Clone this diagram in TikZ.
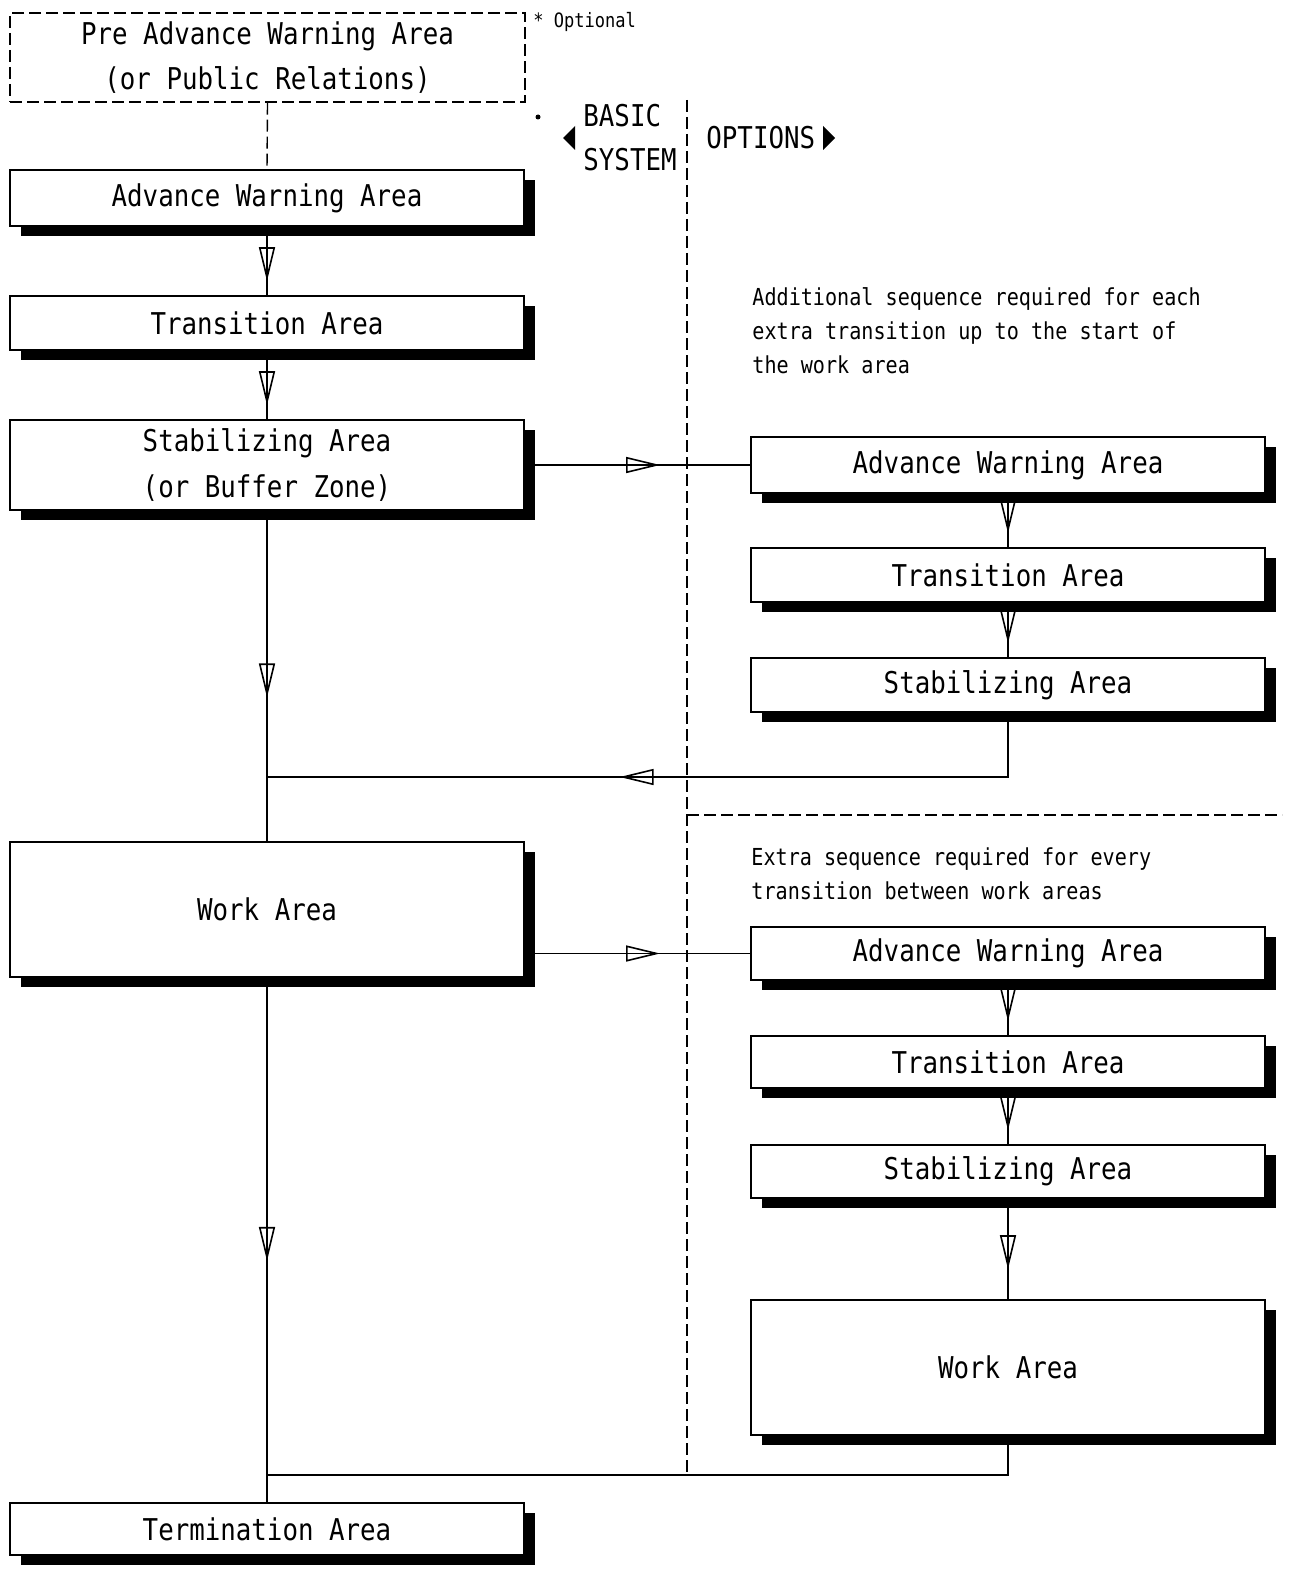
\documentclass[tikz,border=0pt]{standalone}
\usepackage{fontspec}
\newfontfamily\plotfont[FakeStretch=0.86]{DejaVu Sans Mono}
\usetikzlibrary{arrows.meta}
\usetikzlibrary{shadows}
\usetikzlibrary{decorations.markings}

\tikzset{
  area/.style={draw, line width=0.8pt, fill=white, rectangle, inner sep=0pt, minimum width=257pt, align=center,
    font=\plotfont\fontsize{15pt}{23pt}\selectfont,
    drop shadow={shadow xshift=5.5pt, shadow yshift=-5pt, fill=black, opacity=1}},
  optarea/.style={draw, line width=0.7pt, dash pattern=on 6pt off 2.5pt, rectangle, inner sep=0pt, minimum width=257.5pt, align=center,
    font=\plotfont\fontsize{15pt}{22.5pt}\selectfont},
  flow/.style={line width=0.8pt, postaction={decorate},
    decoration={markings, mark=at position #1 with {\arrow{Triangle[open, length=17pt, width=8pt]}}}},
  note/.style={anchor=west, align=left, inner sep=0pt, font=\plotfont\fontsize{11.7pt}{17pt}\selectfont},
  label/.style={anchor=west, align=left, inner sep=0pt, font=\plotfont\fontsize{15pt}{22pt}\selectfont},
}

\begin{document}
\begin{tikzpicture}[x=0.5pt,y=-0.5pt]
\useasboundingbox (0,0) rectangle (1292,1589);

%Basic system column
\node (pre) at (267.5,57.5) [optarea, minimum height=44.5pt] {Pre Advance Warning Area\\(or Public Relations)};
\node (awa1) at (267,198) [area, minimum height=28pt] {Advance Warning Area};
\node (ta1) at (267,323) [area, minimum height=27pt] {Transition Area};
\node (stab1) at (267,465) [area, minimum height=45pt] {Stabilizing Area\\(or Buffer Zone)};
\node (work1) at (267,909.5) [area, minimum height=67.5pt] {Work Area};
\node (term) at (267,1529) [area, minimum height=26pt] {Termination Area};

%Options column, first sequence
\node (awa2) at (1008,465) [area, minimum height=28pt] {Advance Warning Area};
\node (ta2) at (1008,575) [area, minimum height=27pt] {Transition Area};
\node (sa2) at (1008,685) [area, minimum height=27pt] {Stabilizing Area};

%Options column, second sequence
\node (awa3) at (1008,953.5) [area, minimum height=26.5pt] {Advance Warning Area};
\node (ta3) at (1008,1062) [area, minimum height=26pt] {Transition Area};
\node (sa3) at (1008,1171.5) [area, minimum height=26.5pt] {Stabilizing Area};
\node (work2) at (1008,1367.5) [area, minimum height=67.5pt] {Work Area};

% Text Node
\node (optional) at (533,22) [anchor=west, inner sep=0pt, font=\plotfont\fontsize{9.9pt}{11pt}\selectfont] {* Optional};
% Text Node
\node (basic) at (583,138) [label] {BASIC\\SYSTEM};
% Text Node
\node (options) at (706,138) [label] {OPTIONS};
% Text Node
\node (noteA) at (752,331) [note] {Additional sequence required for each\\extra transition up to the start of\\the work area};
% Text Node
\node (noteB) at (751,873.5) [note] {Extra sequence required for every\\transition between work areas};

%Side markers
\fill (538,117) circle [radius=2.5];
\fill (563,138) -- (575,126) -- (575,150) -- cycle;
\fill (835,138) -- (823,126) -- (823,150) -- cycle;

%Divider lines
\draw [line width=0.7pt, dash pattern=on 6pt off 2.5pt] (687,100) -- (687,1475);
\draw [line width=0.7pt, dash pattern=on 6pt off 2.5pt] (687,815) -- (1282,815);

%Joins on the spine
\coordinate (join1) at (267,777);
\coordinate (join2) at (267,1475);

%Connectors
\draw [line width=0.7pt, dash pattern=on 6pt off 2.5pt] (pre.south) -- (awa1.north);
\draw [flow=-7pt] (awa1.south) -- (ta1.north);
\draw [flow=-7pt] (ta1.south) -- (stab1.north);
\draw [flow=0.565] (stab1.south) -- (work1.north);
\draw [flow=0.6] (stab1.east) -- (awa2.west);
\draw [flow=-7pt] (awa2.south) -- (ta2.north);
\draw [flow=-7pt] (ta2.south) -- (sa2.north);
\draw [flow=0.562] (sa2.south) |- (join1);
\draw [flow=0.6] (work1.east |- awa3.west) -- (awa3.west);
\draw [flow=-7pt] (awa3.south) -- (ta3.north);
\draw [flow=-7pt] (ta3.south) -- (sa3.north);
\draw [flow=-15pt] (sa3.south) -- (work2.north);
\draw [flow=0.54] (work1.south) -- (term.north);
\draw [line width=0.8pt] (work2.south) |- (join2);

\end{tikzpicture}
\end{document}
